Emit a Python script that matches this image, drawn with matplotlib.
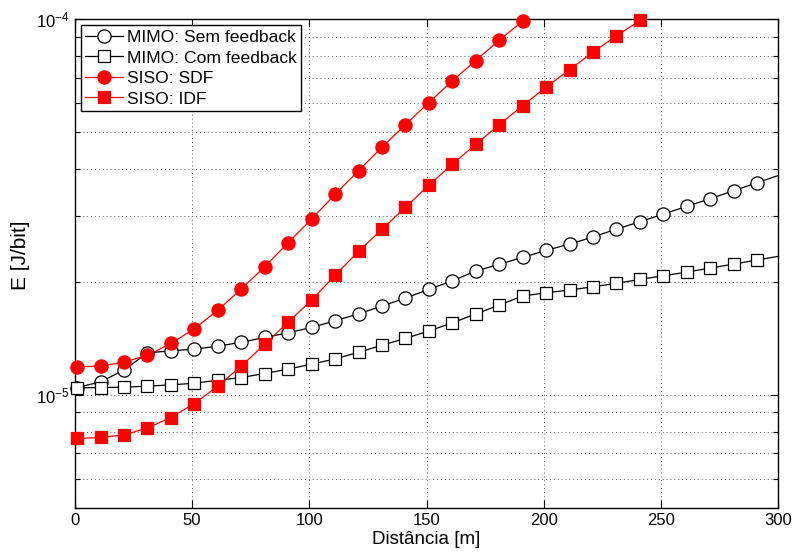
import numpy as np
import matplotlib
matplotlib.use('Agg')
import matplotlib.pyplot as plt
from matplotlib.lines import Line2D
from matplotlib.ticker import LogLocator, NullFormatter, FixedLocator

plt.rcParams['font.family'] = ['Liberation Sans', 'DejaVu Sans']
plt.rcParams['mathtext.fontset'] = 'custom'
plt.rcParams['mathtext.rm'] = 'Liberation Sans'
plt.rcParams['mathtext.it'] = 'Liberation Sans:italic'

# distance [m] - samples start at 1 m with a 10 m step
dist_mimo = np.arange(1, 302, 10)
dist_sdf = np.arange(1, 192, 10)
dist_idf = np.arange(1, 242, 10)

mimo_sem = [1.048e-5, 1.085e-5, 1.166e-5, 1.296e-5, 1.312e-5, 1.326e-5, 1.350e-5,
            1.383e-5, 1.424e-5, 1.466e-5, 1.514e-5, 1.577e-5, 1.646e-5, 1.726e-5,
            1.813e-5, 1.912e-5, 2.015e-5, 2.139e-5, 2.229e-5, 2.326e-5, 2.428e-5,
            2.524e-5, 2.635e-5, 2.767e-5, 2.893e-5, 3.034e-5, 3.180e-5, 3.333e-5,
            3.500e-5, 3.676e-5, 3.860e-5]
mimo_com = [1.046e-5, 1.048e-5, 1.050e-5, 1.057e-5, 1.065e-5, 1.076e-5, 1.096e-5,
            1.114e-5, 1.142e-5, 1.173e-5, 1.209e-5, 1.249e-5, 1.300e-5, 1.358e-5,
            1.416e-5, 1.481e-5, 1.558e-5, 1.644e-5, 1.737e-5, 1.836e-5, 1.873e-5,
            1.904e-5, 1.943e-5, 1.984e-5, 2.033e-5, 2.078e-5, 2.126e-5, 2.179e-5,
            2.233e-5, 2.289e-5, 2.347e-5]
siso_sdf = [1.190e-5, 1.195e-5, 1.224e-5, 1.277e-5, 1.373e-5, 1.502e-5, 1.684e-5,
            1.915e-5, 2.196e-5, 2.544e-5, 2.942e-5, 3.420e-5, 3.956e-5, 4.567e-5,
            5.245e-5, 6.003e-5, 6.857e-5, 7.770e-5, 8.800e-5, 9.890e-5]
siso_idf = [7.67e-6, 7.72e-6, 7.84e-6, 8.18e-6, 8.72e-6, 9.50e-6, 1.057e-5,
            1.195e-5, 1.365e-5, 1.564e-5, 1.790e-5, 2.084e-5, 2.413e-5, 2.762e-5,
            3.161e-5, 3.620e-5, 4.115e-5, 4.650e-5, 5.245e-5, 5.893e-5, 6.600e-5,
            7.350e-5, 8.180e-5, 9.040e-5, 9.930e-5]

XMAX = 300
series = [
    (dist_mimo, mimo_sem, 'k', 'o', 'white', 9.5, 'MIMO: Sem feedback'),
    (dist_mimo, mimo_com, 'k', 's', 'white', 8.0, 'MIMO: Com feedback'),
    (dist_sdf, siso_sdf, 'red', 'o', 'red', 9.5, 'SISO: SDF'),
    (dist_idf, siso_idf, 'red', 's', 'red', 8.0, 'SISO: IDF'),
]

fig = plt.figure(figsize=(7.95, 5.57), dpi=100)
ax = fig.add_axes([0.094, 0.0874, 0.885, 0.8779])

handles = []
for x, y, c, m, fc, ms, lab in series:
    x = np.asarray(x)
    y = np.asarray(y)
    ax.plot(x, y, '-', color=c, lw=0.9, zorder=3)
    # markers past the x limit are not drawn, the line just runs off the edge
    keep = x <= XMAX
    ax.plot(x[keep], y[keep], linestyle='none', marker=m, ms=ms, mfc=fc, mec=c,
            mew=0.9, clip_on=False, zorder=4)
    handles.append(Line2D([], [], color=c, lw=0.9, marker=m, ms=ms, mfc=fc,
                          mec=c, mew=0.9, label=lab))

ax.set_yscale('log')
ax.set_xlim(0, 300)
ax.set_ylim(5e-6, 1e-4)
ax.xaxis.set_major_locator(FixedLocator([0, 50, 100, 150, 200, 250, 300]))
ax.yaxis.set_major_locator(LogLocator(base=10, numticks=10))
ax.yaxis.set_minor_locator(LogLocator(base=10, subs=np.arange(2, 10), numticks=20))
ax.yaxis.set_minor_formatter(NullFormatter())

ax.grid(True, which='major', axis='x', ls=(0, (1, 3)), color='0.35', lw=0.7)
ax.grid(True, which='both', axis='y', ls=(0, (1, 3)), color='0.35', lw=0.7)
ax.set_axisbelow(True)

ax.tick_params(which='both', direction='in', top=True, right=True, labelsize=12,
               color='k')
ax.tick_params(which='major', length=6, width=0.8)
ax.tick_params(which='minor', length=3.5, width=0.8)
for s in ax.spines.values():
    s.set_linewidth(1.0)
    s.set_color('k')

ax.set_xlabel('Distância [m]', fontsize=13.5, labelpad=2)
ax.set_ylabel('E [J/bit]', fontsize=15)
ax.yaxis.set_label_coords(-0.064, 0.518)

leg = ax.legend(handles=handles, loc='upper left', fontsize=12.6, fancybox=False,
                framealpha=1, edgecolor='k', handlelength=2.15, handletextpad=0.25,
                labelspacing=0.3, borderpad=0.25, borderaxespad=0.35)
leg.get_frame().set_linewidth(1.0)

fig.savefig('out.png', dpi=100)
